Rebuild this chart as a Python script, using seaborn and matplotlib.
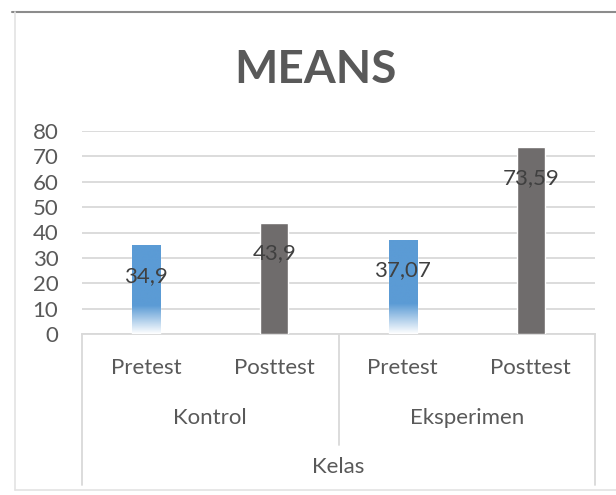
import numpy as np
import pandas as pd
import matplotlib
matplotlib.use("Agg")
import matplotlib.pyplot as plt
import seaborn as sns
from matplotlib.colors import to_rgb
from matplotlib.lines import Line2D

# данные графика
groups = ["Kontrol", "Kontrol", "Eksperimen", "Eksperimen"]
tests = ["Pretest", "Posttest", "Pretest", "Posttest"]
means = [34.9, 43.9, 37.07, 73.59]
value_labels = ["34,9", "43,9", "37,07", "73,59"]
group_names = ["Kontrol", "Eksperimen"]
axis_title = "Kelas"
title = "MEANS"

df = pd.DataFrame({"group": groups, "test": tests, "mean": means})
df["slot"] = [f"{g} {t}" for g, t in zip(groups, tests)]

sns.set_style("white")
plt.rcParams["font.family"] = ["Lato", "DejaVu Sans"]

text_grey = "#595959"
grid_grey = "#d9d9d9"
blue = "#5B9BD5"
grey = "#6F6C6C"

fig = plt.figure(figsize=(6.16, 4.95), dpi=100)
ax = fig.add_axes([82 / 616, 1 - 334 / 495, 513 / 616, 203 / 495])

sns.barplot(data=df, x="slot", y="mean", hue="test",
            palette={"Pretest": blue, "Posttest": grey},
            dodge=False, width=0.22, saturation=1, legend=False, ax=ax, zorder=3)

# градиент снизу для синих столбцов
blue_rgb = np.array(to_rgb(blue))
t = np.linspace(0, 1, 256)[:, None]
a = np.clip(t / 0.32, 0, 1)
grad = np.ones((256, 1, 3)) * (1 - a[..., None]) + blue_rgb * a[..., None]
for p in ax.patches:
    if np.allclose(p.get_facecolor()[:3], blue_rgb):
        x0, y0 = p.get_x(), p.get_y()
        w, h = p.get_width(), p.get_height()
        im = ax.imshow(grad, extent=[x0, x0 + w, y0, y0 + h], origin="lower",
                       aspect="auto", zorder=4)
        im.set_clip_path(p)

# подписи значений
bars = sorted(ax.patches, key=lambda p: p.get_x())
for p, lab in zip(bars, value_labels):
    ax.annotate(lab, (p.get_x() + p.get_width() / 2, p.get_height()),
                xytext=(0, -22), textcoords="offset points",
                ha="center", va="center", fontsize=16, color="#404040", zorder=5)

ax.set_xlim(-0.5, 3.5)
ax.set_ylim(0, 80)
ax.set_yticks(range(0, 81, 10))
ax.tick_params(axis="y", length=0, pad=17, labelsize=16, labelcolor=text_grey)
ax.set_xticks([])
ax.set_xlabel("")
ax.set_ylabel("")
ax.yaxis.grid(True, color=grid_grey, lw=1.3, zorder=0)
for s in ["top", "right", "left"]:
    ax.spines[s].set_visible(False)
ax.spines["bottom"].set_color(grid_grey)
ax.spines["bottom"].set_linewidth(1.3)

# многоуровневая ось X
tr = ax.get_xaxis_transform()
for i, lab in enumerate(tests):
    ax.text(i, -0.167, lab, transform=tr, ha="center", va="center",
            fontsize=16, color=text_grey)
for j, g in enumerate(group_names):
    ax.text(2 * j + 0.5, -0.414, g, transform=tr, ha="center", va="center",
            fontsize=16, color=text_grey)
ax.text(1.5, -0.655, axis_title, transform=tr, ha="center", va="center",
        fontsize=16, color=text_grey)
for xv, yb in [(-0.5, -0.744), (1.5, -0.547), (3.5, -0.744)]:
    ax.plot([xv, xv], [0, yb], transform=tr, color=grid_grey, lw=1.3, clip_on=False)

# заголовок и рамка
fig.text(315 / 616, 1 - 70 / 495, title, ha="center", va="center",
         fontsize=33, fontweight="bold", color=text_grey)
fig.add_artist(Line2D([12 / 616, 1], [1 - 12 / 495] * 2, color="#8c8c8c", lw=1.5))
fig.add_artist(Line2D([15 / 616] * 2, [1 - 12 / 495, 5 / 495], color="#e3e3e3", lw=1.2))
fig.add_artist(Line2D([15 / 616, 1], [5 / 495] * 2, color="#e3e3e3", lw=1.2))

fig.savefig("out.png", dpi=100)
